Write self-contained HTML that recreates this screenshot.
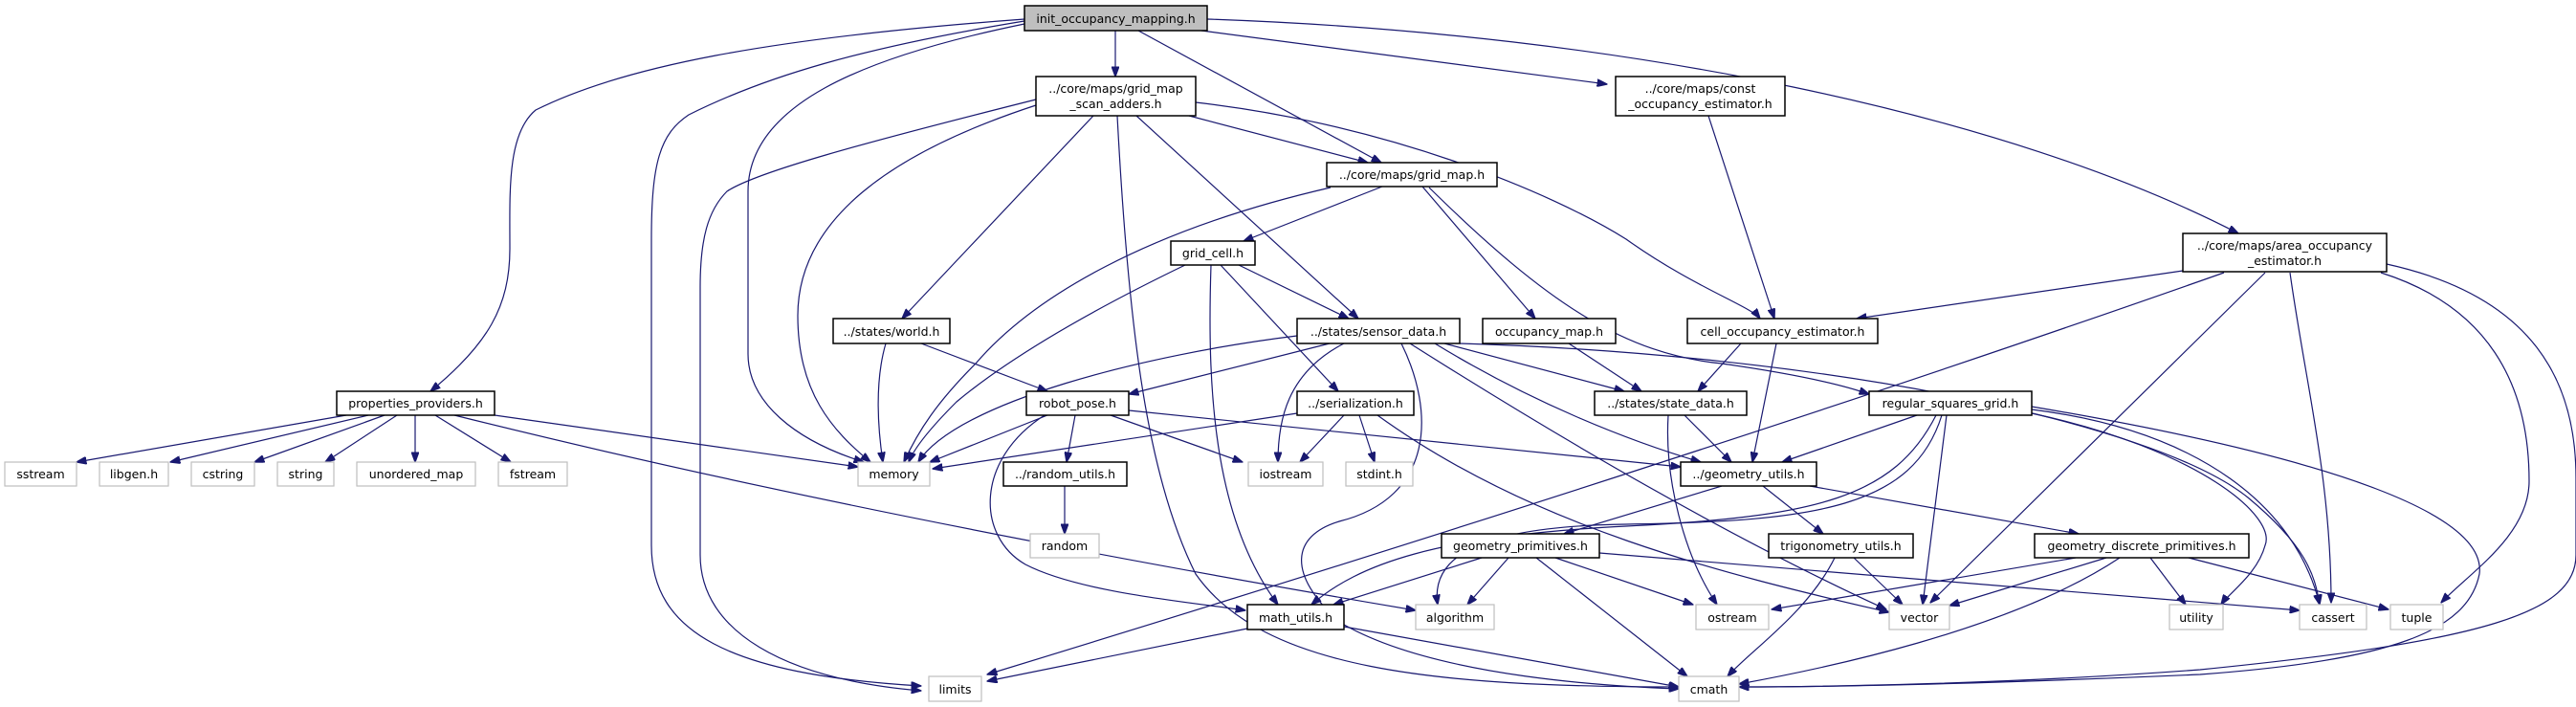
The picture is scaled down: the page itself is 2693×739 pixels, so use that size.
<!DOCTYPE html>
<html><head><meta charset="utf-8"><style>
html,body{margin:0;padding:0;background:#fff;}
svg{display:block;}
text{font-family:"DejaVu Sans","Liberation Sans",sans-serif;font-size:12.5px;fill:#000;}
.e{fill:none;stroke:#191970;stroke-width:1.2;marker-end:url(#a);}
.n{fill:#fff;stroke:#000;stroke-width:1.5;}
.g{fill:#fff;stroke:#bfbfbf;stroke-width:1.2;}
</style></head><body>
<svg width="2693" height="739" viewBox="0 0 2693 739" xmlns="http://www.w3.org/2000/svg">
<defs><marker id="a" markerUnits="userSpaceOnUse" markerWidth="11" markerHeight="8" refX="10.5" refY="4" orient="auto"><path d="M0,0 L11,4 L0,8 z" fill="#191970" stroke="#191970"/></marker></defs>
<g>
<path class="e" d="M1166,32 L1166,80"/>
<path class="e" d="M1190,32 L1444,170"/>
<path class="e" d="M1256,32 L1680,88"/>
<path class="e" d="M1262,20 C1700,35 2100,120 2340,244"/>
<path class="e" d="M1071,20 C800,40 650,70 560,115 C530,140 533,200 533,260 C533,320 510,360 450,409"/>
<path class="e" d="M1071,22 C900,50 800,80 720,120 C690,140 681,170 681,250 L681,570 C681,660 760,705 963,717"/>
<path class="e" d="M1071,25 C900,60 782,110 782,200 L782,370 C782,420 830,460 903,483"/>
<path class="e" d="M1083,104 C900,150 790,180 760,200 C740,220 732,250 732,300 L732,580 C732,660 820,710 963,722"/>
<path class="e" d="M1083,110 C930,160 834,230 834,330 C834,410 870,450 910,483"/>
<path class="e" d="M1143,121 L943,333"/>
<path class="e" d="M1168,121 C1180,350 1200,500 1250,600 C1320,700 1500,718 1755,718"/>
<path class="e" d="M1188,121 L1420,333"/>
<path class="e" d="M1243,121 L1430,170"/>
<path class="e" d="M1250,107 C1450,130 1620,200 1700,250 C1770,300 1830,320 1840,333"/>
<path class="e" d="M1445,195 L1300,252"/>
<path class="e" d="M1391,196 C1200,240 1080,310 1020,380 C980,420 960,450 945,483"/>
<path class="e" d="M1487,195 L1605,333"/>
<path class="e" d="M1494,196 C1620,320 1700,370 1800,380 C1870,390 1920,400 1954,412"/>
<path class="e" d="M1786,121 L1855,333"/>
<path class="e" d="M2282,283 L1941,333"/>
<path class="e" d="M2325,285 Q1800,470 1032,705"/>
<path class="e" d="M2368,285 L2018,630"/>
<path class="e" d="M2394,285 C2410,400 2437,500 2437,630"/>
<path class="e" d="M2489,285 C2600,320 2644,400 2644,503 C2644,560 2580,600 2552,630"/>
<path class="e" d="M2495,276 C2650,310 2693,400 2693,500 L2693,580 C2693,640 2600,670 2300,700 C2100,715 1900,718 1818,718"/>
<path class="e" d="M1239,277 C1150,320 1060,370 1000,420 C970,450 955,470 950,483"/>
<path class="e" d="M1266,277 C1262,400 1267,540 1336,632"/>
<path class="e" d="M1276,277 L1399,409"/>
<path class="e" d="M1295,277 L1410,333"/>
<path class="e" d="M926,359 C914,400 918,450 923,483"/>
<path class="e" d="M963,359 L1095,409"/>
<path class="e" d="M1356,351 C1200,370 1000,420 960,483"/>
<path class="e" d="M1390,359 L1180,412"/>
<path class="e" d="M1405,359 C1345,390 1336,440 1336,483"/>
<path class="e" d="M1465,359 C1500,430 1500,520 1400,545 C1350,560 1345,600 1400,650 C1500,710 1700,718 1755,720"/>
<path class="e" d="M1474,359 Q1760,540 1972,637"/>
<path class="e" d="M1510,359 L1698,409"/>
<path class="e" d="M1500,359 C1600,420 1700,460 1778,483"/>
<path class="e" d="M1526,359 C1900,370 2250,440 2350,520 C2410,570 2420,600 2425,632"/>
<path class="e" d="M1640,359 L1716,409"/>
<path class="e" d="M1820,359 L1775,409"/>
<path class="e" d="M1857,359 L1832,483"/>
<path class="e" d="M1744,434 C1740,500 1760,580 1795,632"/>
<path class="e" d="M1761,434 L1810,483"/>
<path class="e" d="M1095,434 L972,483"/>
<path class="e" d="M1124,434 L1115,483"/>
<path class="e" d="M1161,434 L1299,483"/>
<path class="e" d="M1180,429 L1757,488"/>
<path class="e" d="M1092,434 C1020,480 1020,560 1072,590 C1130,620 1250,630 1302,638"/>
<path class="e" d="M1356,432 L975,490"/>
<path class="e" d="M1405,434 L1359,483"/>
<path class="e" d="M1421,434 L1437,483"/>
<path class="e" d="M1440,434 C1600,550 1800,600 1975,640"/>
<path class="e" d="M1113,508 L1113,558"/>
<path class="e" d="M1800,508 L1635,558"/>
<path class="e" d="M1843,508 L1906,558"/>
<path class="e" d="M1892,508 L2173,558"/>
<path class="e" d="M2004,434 L1863,483"/>
<path class="e" d="M2024,434 C1980,520 1900,540 1700,550 C1500,560 1420,590 1371,632"/>
<path class="e" d="M2030,434 C2000,530 1900,545 1700,548 C1550,550 1495,580 1503,632"/>
<path class="e" d="M2035,434 L2010,632"/>
<path class="e" d="M2124,432 C2300,470 2380,540 2368,570 C2360,600 2330,620 2322,632"/>
<path class="e" d="M2124,428 C2300,450 2400,530 2425,632"/>
<path class="e" d="M2124,425 C2450,480 2600,540 2592,600 C2580,660 2500,690 2300,705 C2000,718 1850,718 1818,718"/>
<path class="e" d="M1549,583 L1394,632"/>
<path class="e" d="M1577,583 L1534,632"/>
<path class="e" d="M1606,583 L1764,707"/>
<path class="e" d="M1626,583 L1770,632"/>
<path class="e" d="M1672,578 L2404,638"/>
<path class="e" d="M1918,583 C1890,640 1830,680 1806,707"/>
<path class="e" d="M1938,583 L1989,632"/>
<path class="e" d="M2170,583 L1852,637"/>
<path class="e" d="M2202,583 L2038,633"/>
<path class="e" d="M2216,583 C2100,660 1900,700 1818,715"/>
<path class="e" d="M2248,583 L2285,632"/>
<path class="e" d="M2288,583 L2497,637"/>
<path class="e" d="M362,434 L80,483"/>
<path class="e" d="M385,434 L178,483"/>
<path class="e" d="M402,434 L266,483"/>
<path class="e" d="M415,434 L340,483"/>
<path class="e" d="M434,434 L434,483"/>
<path class="e" d="M455,434 L534,483"/>
<path class="e" d="M517,434 L897,488"/>
<path class="e" d="M475,434 Q900,540 1480,638"/>
<path class="e" d="M1304,657 L1032,712"/>
<path class="e" d="M1405,655 L1755,718"/>
</g>
<g>
<rect x="1071" y="6" width="191" height="26" fill="#bfbfbf" stroke="#000" stroke-width="1.5"/><text x="1166.5" y="24" text-anchor="middle">init_occupancy_mapping.h</text>
<rect class="n" x="1083" y="80" width="167" height="41"/><text x="1166.5" y="97" text-anchor="middle">../core/maps/grid_map</text><text x="1166.5" y="113" text-anchor="middle">_scan_adders.h</text>
<rect class="n" x="1689" y="80" width="177" height="41"/><text x="1777.5" y="97" text-anchor="middle">../core/maps/const</text><text x="1777.5" y="113" text-anchor="middle">_occupancy_estimator.h</text>
<rect class="n" x="2282" y="244" width="213" height="40"/><text x="2388.5" y="261" text-anchor="middle">../core/maps/area_occupancy</text><text x="2388.5" y="277" text-anchor="middle">_estimator.h</text>
<rect class="n" x="1387" y="170" width="178" height="25"/><text x="1476" y="187" text-anchor="middle">../core/maps/grid_map.h</text>
<rect class="n" x="1224" y="252" width="88" height="25"/><text x="1268" y="269" text-anchor="middle">grid_cell.h</text>
<rect class="n" x="871" y="333" width="122" height="26"/><text x="932" y="351" text-anchor="middle">../states/world.h</text>
<rect class="n" x="1356" y="333" width="170" height="26"/><text x="1441" y="351" text-anchor="middle">../states/sensor_data.h</text>
<rect class="n" x="1550" y="333" width="139" height="26"/><text x="1619.5" y="351" text-anchor="middle">occupancy_map.h</text>
<rect class="n" x="1764" y="333" width="199" height="26"/><text x="1863.5" y="351" text-anchor="middle">cell_occupancy_estimator.h</text>
<rect class="n" x="352" y="409" width="165" height="25"/><text x="434.5" y="426" text-anchor="middle">properties_providers.h</text>
<rect class="n" x="1073" y="409" width="107" height="25"/><text x="1126.5" y="426" text-anchor="middle">robot_pose.h</text>
<rect class="n" x="1356" y="409" width="122" height="25"/><text x="1417" y="426" text-anchor="middle">../serialization.h</text>
<rect class="n" x="1667" y="409" width="159" height="25"/><text x="1746.5" y="426" text-anchor="middle">../states/state_data.h</text>
<rect class="n" x="1954" y="409" width="170" height="25"/><text x="2039" y="426" text-anchor="middle">regular_squares_grid.h</text>
<rect class="g" x="5" y="483" width="75" height="25"/><text x="42.5" y="500" text-anchor="middle">sstream</text>
<rect class="g" x="104" y="483" width="72" height="25"/><text x="140" y="500" text-anchor="middle">libgen.h</text>
<rect class="g" x="200" y="483" width="66" height="25"/><text x="233" y="500" text-anchor="middle">cstring</text>
<rect class="g" x="290" y="483" width="59" height="25"/><text x="319.5" y="500" text-anchor="middle">string</text>
<rect class="g" x="373" y="483" width="124" height="25"/><text x="435" y="500" text-anchor="middle">unordered_map</text>
<rect class="g" x="521" y="483" width="72" height="25"/><text x="557" y="500" text-anchor="middle">fstream</text>
<rect class="g" x="897" y="483" width="75" height="25"/><text x="934.5" y="500" text-anchor="middle">memory</text>
<rect class="n" x="1049" y="483" width="129" height="25"/><text x="1113.5" y="500" text-anchor="middle">../random_utils.h</text>
<rect class="g" x="1305" y="483" width="78" height="25"/><text x="1344" y="500" text-anchor="middle">iostream</text>
<rect class="g" x="1407" y="483" width="70" height="25"/><text x="1442" y="500" text-anchor="middle">stdint.h</text>
<rect class="n" x="1757" y="483" width="142" height="25"/><text x="1828" y="500" text-anchor="middle">../geometry_utils.h</text>
<rect class="g" x="1077" y="558" width="72" height="25"/><text x="1113" y="575" text-anchor="middle">random</text>
<rect class="n" x="1507" y="558" width="165" height="25"/><text x="1589.5" y="575" text-anchor="middle">geometry_primitives.h</text>
<rect class="n" x="1849" y="558" width="151" height="25"/><text x="1924.5" y="575" text-anchor="middle">trigonometry_utils.h</text>
<rect class="n" x="2127" y="558" width="224" height="25"/><text x="2239" y="575" text-anchor="middle">geometry_discrete_primitives.h</text>
<rect class="n" x="1304" y="632" width="101" height="26"/><text x="1354.5" y="650" text-anchor="middle">math_utils.h</text>
<rect class="g" x="1480" y="632" width="82" height="26"/><text x="1521" y="650" text-anchor="middle">algorithm</text>
<rect class="g" x="1773" y="632" width="76" height="26"/><text x="1811" y="650" text-anchor="middle">ostream</text>
<rect class="g" x="1975" y="632" width="63" height="26"/><text x="2006.5" y="650" text-anchor="middle">vector</text>
<rect class="g" x="2268" y="632" width="56" height="26"/><text x="2296" y="650" text-anchor="middle">utility</text>
<rect class="g" x="2404" y="632" width="70" height="26"/><text x="2439" y="650" text-anchor="middle">cassert</text>
<rect class="g" x="2499" y="632" width="55" height="26"/><text x="2526.5" y="650" text-anchor="middle">tuple</text>
<rect class="g" x="971" y="707" width="55" height="26"/><text x="998.5" y="725" text-anchor="middle">limits</text>
<rect class="g" x="1755" y="707" width="63" height="26"/><text x="1786.5" y="725" text-anchor="middle">cmath</text>
</g>
</svg>
</body></html>
